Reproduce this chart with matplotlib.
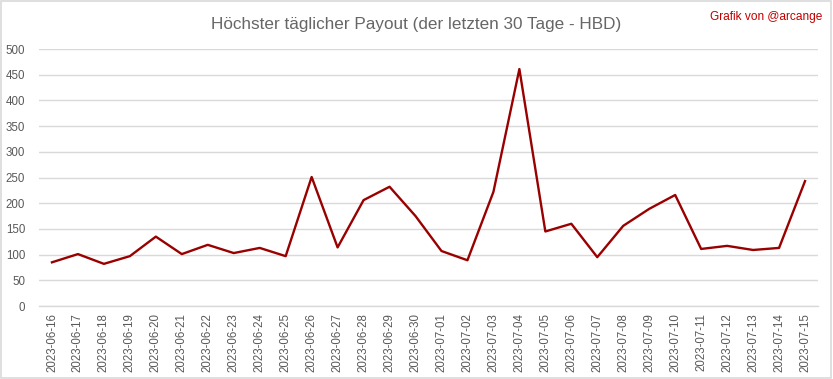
import matplotlib
matplotlib.use("Agg")
import matplotlib.pyplot as plt
from matplotlib.patches import Rectangle

plt.rcParams['font.family'] = ['Liberation Sans Narrow', 'Liberation Sans', 'DejaVu Sans']

# ----------------------------
# Data
# ----------------------------
dates = [
    "2023-06-16", "2023-06-17", "2023-06-18", "2023-06-19", "2023-06-20",
    "2023-06-21", "2023-06-22", "2023-06-23", "2023-06-24", "2023-06-25",
    "2023-06-26", "2023-06-27", "2023-06-28", "2023-06-29", "2023-06-30",
    "2023-07-01", "2023-07-02", "2023-07-03", "2023-07-04", "2023-07-05",
    "2023-07-06", "2023-07-07", "2023-07-08", "2023-07-09", "2023-07-10",
    "2023-07-11", "2023-07-12", "2023-07-13", "2023-07-14", "2023-07-15",
]
payout = [
    85, 101, 82, 97, 135,
    101, 119, 103, 113, 97,
    251, 114, 206, 232, 175,
    107, 89, 222, 461, 145,
    160, 95, 156, 189, 216,
    111, 117, 109, 113, 243,
]
y_ticks = list(range(0, 501, 50))

text_color = "#595959"
grid_color = "#d9d9d9"
line_color = "#990000"

# ----------------------------
# Figure setup
# ----------------------------
fig = plt.figure(figsize=(8.33, 3.79), dpi=100)
ax = fig.add_axes([0.0468, 0.1926, 0.9352, 0.6781])

ax.plot(range(len(dates)), payout, color=line_color, lw=1.7, zorder=3)

ax.set_xlim(-0.5, len(dates) - 0.5)
ax.set_ylim(0, 500)
ax.set_yticks(y_ticks)
ax.set_xticks(range(len(dates)))
ax.set_xticklabels(dates, rotation=90)
ax.tick_params(axis="both", length=0, labelsize=8.3, labelcolor=text_color)
ax.tick_params(axis="x", pad=5)
ax.tick_params(axis="y", pad=10)

ax.grid(axis="y", color=grid_color, lw=1)
ax.set_axisbelow(True)
for side in ["top", "right", "left"]:
    ax.spines[side].set_visible(False)
ax.spines["bottom"].set_color(grid_color)
ax.spines["bottom"].set_linewidth(1)

# Title and credit
fig.text(0.5, 0.935, "Höchster täglicher Payout (der letzten 30 Tage - HBD)",
         ha="center", va="center", fontsize=12.3, color="#666666")
fig.text(0.987, 0.955, "Grafik von @arcange", ha="right", va="center",
         fontsize=8.6, color="#c00000")

# Chart border
fig.patches.append(Rectangle((0.001, 0.002), 0.997, 0.995, transform=fig.transFigure,
                             fill=False, edgecolor="#d9d9d9", lw=1.2))

fig.savefig("out.png", dpi=100)
